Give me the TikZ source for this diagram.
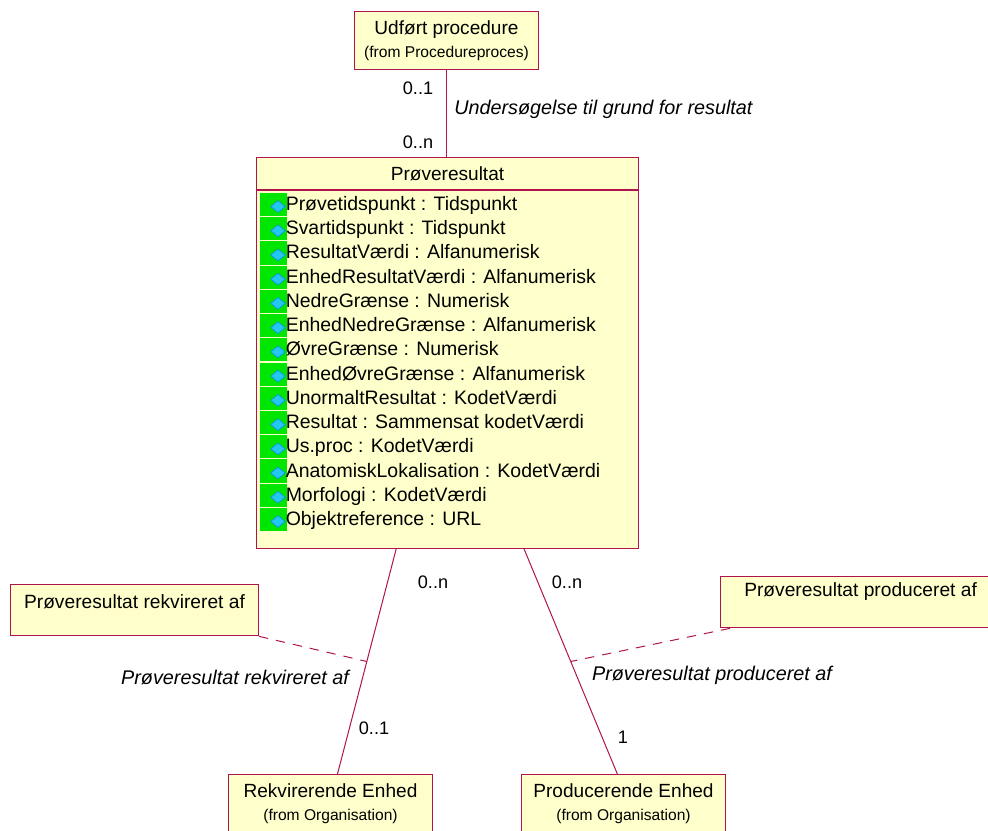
\documentclass[tikz,border=0pt]{standalone}
\usepackage{fontspec}
\setmainfont{Liberation Sans}
\usetikzlibrary{positioning, calc, shapes.geometric}
\definecolor{umlfill}{HTML}{FFFFCC}
\definecolor{umlline}{HTML}{B0144E}
\definecolor{attrgreen}{HTML}{00E600}
\definecolor{attrblue}{HTML}{22C8F0}
\newcommand{\classlabel}[2]{\fontsize{14.3pt}{17pt}\selectfont #1\\[5.5pt]\fontsize{11.7pt}{14pt}\selectfont #2}

\begin{document}
\begin{tikzpicture}[
    x=0.75pt, y=-0.75pt,
    umlbox/.style={rectangle, draw=umlline, fill=umlfill, line width=0.75pt, inner sep=0pt},
    classbox/.style={umlbox, anchor=north west, minimum width=153pt, minimum height=43.5pt, align=center},
    notebox/.style={umlbox, anchor=north west, minimum width=186pt, minimum height=38.5pt},
    assoc/.style={draw=umlline, line width=0.75pt},
    notelink/.style={assoc, dashed, dash pattern=on 7pt off 6pt},
    attrtext/.style={anchor=base west, inner sep=0pt, font=\fontsize{14.6pt}{15pt}\selectfont},
    lbl/.style={inner sep=0pt, font=\fontsize{14.4pt}{15pt}\selectfont},
    multlbl/.style={inner sep=0pt, font=\fontsize{13.6pt}{15pt}\selectfont},
    rolelbl/.style={inner sep=0pt, font=\fontsize{14.85pt}{15pt}\selectfont\itshape},
    attrbg/.style={rectangle, fill=attrgreen, inner sep=0pt, minimum width=20.25pt, minimum height=17.4pt},
    attricon/.style={diamond, fill=attrblue, draw=attrblue!65!blue, line width=0.4pt, inner sep=0pt, minimum width=11pt, minimum height=9pt}
    ]
    \clip (0,0) rectangle (988,831);
    \useasboundingbox (0,0) rectangle (988,831);

    % classes
    \node[classbox, minimum width=138pt] (udfoert) at (354,11) {\classlabel{Udført procedure}{(from Procedureproces)}};
    \node[umlbox, anchor=north west, minimum width=286.5pt, minimum height=24pt, font=\fontsize{14.3pt}{15pt}\selectfont] (title) at (256,157) {Prøveresultat};
    \node[umlbox, anchor=north west, minimum width=286.5pt, minimum height=268.5pt] (proeve) at (title.south west) {};
    \node[classbox] (rekv) at (228,774) {\classlabel{Rekvirerende Enhed}{(from Organisation)}};
    \node[classbox] (prod) at (521,774) {\classlabel{Producerende Enhed}{(from Organisation)}};

    % attributes
    \foreach \txt [count=\i] in {Prøvetidspunkt : Tidspunkt, Svartidspunkt : Tidspunkt, ResultatVærdi : Alfanumerisk,
        EnhedResultatVærdi : Alfanumerisk, NedreGrænse : Numerisk, EnhedNedreGrænse : Alfanumerisk,
        ØvreGrænse : Numerisk, EnhedØvreGrænse : Alfanumerisk, UnormaltResultat : KodetVærdi,
        Resultat : Sammensat kodetVærdi, Us.proc : KodetVærdi, AnatomiskLokalisation : KodetVærdi,
        Morfologi : KodetVærdi, Objektreference : URL}
    {
        \pgfmathsetmacro\rowy{204.5+(\i-1)*24.23}
        \node[attrbg] (bg\i) at (273.5,\rowy) {};
        \node[attricon] (icon\i) at (278,\rowy+2) {};
        \node[attrtext] (attr\i) at (285.5,\rowy+6) {\txt};
    }

    % notes
    \node[notebox] (noterekv) at (10,584) {};
    \node[lbl, anchor=north] (noterekvtxt) at ([yshift=-8pt]noterekv.north) {Prøveresultat rekvireret af};
    \node[notebox, minimum width=201pt] (noteprod) at (720,576) {};
    \node[lbl, anchor=west] (noteprodtxt) at (744,592) {Prøveresultat produceret af};

    % associations
    \coordinate (rekvtop) at ($(proeve.south west)!0.366!(proeve.south east)$);
    \coordinate (prodtop) at ($(proeve.south west)!0.70!(proeve.south east)$);
    \coordinate (rekvend) at ($(rekv.north west)!0.534!(rekv.north east)$);
    \coordinate (prodend) at ($(prod.north west)!0.47!(prod.north east)$);
    \coordinate (rekvmid) at ($(rekvtop)!0.5!(rekvend)$);
    \coordinate (prodmid) at ($(prodtop)!0.5!(prodend)$);
    \draw[assoc] (udfoert.south) -- (title.north -| udfoert.south);
    \draw[assoc] (rekvtop) -- (rekvend);
    \draw[assoc] (prodtop) -- (prodend);
    \draw[notelink] (noterekv.south east) -- (rekvmid);
    \draw[notelink] ($(noteprod.south west)+(10,0)$) -- (prodmid);

    % labels
    \node[multlbl] (m1) at (418,88) {0..1};
    \node[multlbl] (m2) at (418,142) {0..n};
    \node[rolelbl, anchor=west] (r1) at (454,109) {Undersøgelse til grund for resultat};
    \node[multlbl] (m3) at (433,582) {0..n};
    \node[multlbl] (m4) at (567,582) {0..n};
    \node[rolelbl] (r2) at (235,678) {Prøveresultat rekvireret af};
    \node[rolelbl] (r3) at (712,675) {Prøveresultat produceret af};
    \node[multlbl] (m5) at (374,728) {0..1};
    \node[multlbl] (m6) at (623,737) {1};
\end{tikzpicture}
\end{document}
